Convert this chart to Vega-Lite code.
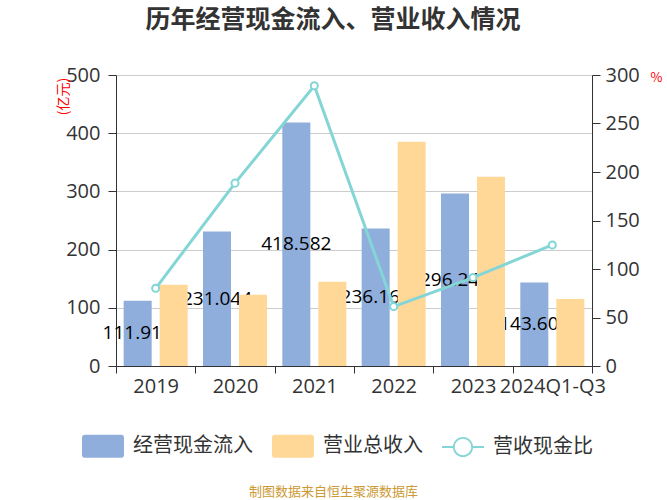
{
  "$schema": "https://vega.github.io/schema/vega-lite/v6.json",
  "width": 476,
  "height": 291,
  "autosize": "none",
  "padding": {"left": 116, "top": 75, "right": 75, "bottom": 134},
  "background": "white",
  "config": {"view": {"stroke": null}, "font": "Noto Sans CJK SC"},
  "title": {
    "text": "历年经营现金流入、营业收入情况",
    "font": "Noto Sans CJK SC",
    "fontSize": 25,
    "fontWeight": "bold",
    "color": "#333333",
    "anchor": "middle",
    "dx": -21,
    "offset": 32
  },
  "data": {
    "values": [
      {"year": "2019", "cash": 111.913, "revenue": 139.7, "ratio": 80.1},
      {"year": "2020", "cash": 231.044, "revenue": 122.6, "ratio": 188.5},
      {"year": "2021", "cash": 418.582, "revenue": 144.9, "ratio": 288.9},
      {"year": "2022", "cash": 236.163, "revenue": 385.4, "ratio": 61.3},
      {"year": "2023", "cash": 296.241, "revenue": 325.0, "ratio": 91.2},
      {"year": "2024Q1-Q3", "cash": 143.603, "revenue": 115.1, "ratio": 124.8}
    ]
  },
  "encoding": {
    "x": {
      "field": "year",
      "type": "nominal",
      "sort": null,
      "scale": {"paddingInner": 0, "paddingOuter": 0},
      "axis": {
        "title": "制图数据来自恒生聚源数据库",
        "titleColor": "#CC9933",
        "titleFont": "Noto Sans CJK SC",
        "titleFontSize": 13,
        "titleFontWeight": "normal",
        "titleX": 217,
        "titleY": 125,
        "titleAlign": "center",
        "titleBaseline": "middle",
        "labelAngle": 0,
        "labelFont": "Open Sans",
        "labelFontSize": 20,
        "labelColor": "#333333",
        "labelPadding": 3,
        "labelOverlap": false,
        "labelFlush": false,
        "tickBand": "extent",
        "tickSize": 7,
        "tickColor": "#333333",
        "domainColor": "#333333",
        "grid": false
      }
    }
  },
  "layer": [
    {
      "mark": {"type": "bar", "color": "#8FAEDC"},
      "encoding": {
        "xOffset": {
          "datum": "经营现金流入",
          "scale": {"domain": ["经营现金流入", "营业总收入"], "paddingInner": 0.222, "paddingOuter": 0.2125}
        },
        "y": {
          "field": "cash",
          "type": "quantitative",
          "scale": {"domain": [0, 500], "nice": false},
          "axis": {
            "orient": "left",
            "values": [0, 100, 200, 300, 400, 500],
            "title": "(亿元)",
            "titleColor": "#FF0000",
            "titleFontSize": 14,
            "titleFontWeight": "normal",
            "titleFont": "Noto Sans CJK SC",
            "titleX": -53,
            "titleY": 21,
            "titleAlign": "center",
            "titleBaseline": "middle",
            "titleAngle": -90,
            "labelFont": "Open Sans",
            "labelFontSize": 20,
            "labelColor": "#333333",
            "labelPadding": 8,
            "tickSize": 8,
            "tickColor": "#333333",
            "domainColor": "#333333",
            "grid": true,
            "gridColor": "#CCCCCC"
          }
        },
        "color": {
          "datum": "经营现金流入",
          "scale": {
            "domain": ["经营现金流入", "营业总收入", "营收现金比"],
            "range": ["#8FAEDC", "#FFD898", "#84D5D6"]
          },
          "legend": {
            "title": null,
            "orient": "none",
            "direction": "horizontal",
            "legendX": -34,
            "legendY": 350,
            "symbolSize": 1764,
            "labelFont": "Noto Sans CJK SC",
            "labelFontSize": 20,
            "labelColor": "#333333",
            "labelOffset": 9,
            "labelLimit": 300,
            "columnPadding": 19,
            "symbolStrokeWidth": 0,
            "encode": {
              "symbols": {
                "update": {
                  "shape": {"signal": "datum.value === '营收现金比' ? 'M-1,-0.05 L-0.47,-0.05 L-0.47,0.05 L-1,0.05 Z M0.47,-0.05 L1,-0.05 L1,0.05 L0.47,0.05 Z M-0.48,0 A0.48,0.48 0 1,1 0.48,0 A0.48,0.48 0 1,1 -0.48,0 Z M-0.39,0 A0.39,0.39 0 1,0 0.39,0 A0.39,0.39 0 1,0 -0.39,0 Z' : 'M-0.85,-0.55 L0.85,-0.55 Q1,-0.55 1,-0.4 L1,0.4 Q1,0.55 0.85,0.55 L-0.85,0.55 Q-1,0.55 -1,0.4 L-1,-0.4 Q-1,-0.55 -0.85,-0.55 Z'"},
                  "fill": {"signal": "datum.value === '营收现金比' ? '#84D5D6' : (datum.value === '营业总收入' ? '#FFD898' : '#8FAEDC')"},
                  "stroke": {"value": "transparent"},
                  "strokeWidth": {"value": 0},
                  "opacity": {"value": 1}
                }
              }
            }
          }
        }
      }
    },
    {
      "mark": {"type": "text", "font": "Open Sans", "fontSize": 19, "color": "#000000", "baseline": "middle", "align": "center"},
      "encoding": {
        "xOffset": {"datum": "经营现金流入"},
        "y": {
          "field": "cash",
          "type": "quantitative",
          "scale": {"domain": [0, 1000], "nice": false},
          "axis": null
        },
        "text": {"field": "cash", "type": "quantitative", "format": ".3f"}
      }
    },
    {
      "mark": {"type": "bar", "color": "#FFD898"},
      "encoding": {
        "xOffset": {"datum": "营业总收入"},
        "y": {
          "field": "revenue",
          "type": "quantitative",
          "scale": {"domain": [0, 500], "nice": false},
          "axis": null
        },
        "color": {"datum": "营业总收入"}
      }
    },
    {
      "mark": {
        "type": "line",
        "strokeWidth": 3,
        "point": {"filled": true, "fill": "#ffffff", "stroke": "#84D5D6", "strokeWidth": 2, "size": 50}
      },
      "encoding": {
        "y": {
          "field": "ratio",
          "type": "quantitative",
          "scale": {"domain": [0, 300], "nice": false},
          "axis": {
            "orient": "right",
            "values": [0, 50, 100, 150, 200, 250, 300],
            "title": "%",
            "titleColor": "#FF0000",
            "titleFontSize": 13,
            "titleFontWeight": "normal",
            "titleX": 64,
            "titleY": 2,
            "titleAngle": 0,
            "titleAlign": "center",
            "titleBaseline": "middle",
            "labelFont": "Open Sans",
            "labelFontSize": 20,
            "labelColor": "#333333",
            "labelPadding": 5,
            "tickSize": 8,
            "tickColor": "#333333",
            "domainColor": "#333333",
            "grid": false
          }
        },
        "color": {"datum": "营收现金比"}
      }
    }
  ],
  "resolve": {"scale": {"y": "independent"}, "axis": {"y": "independent"}}
}
